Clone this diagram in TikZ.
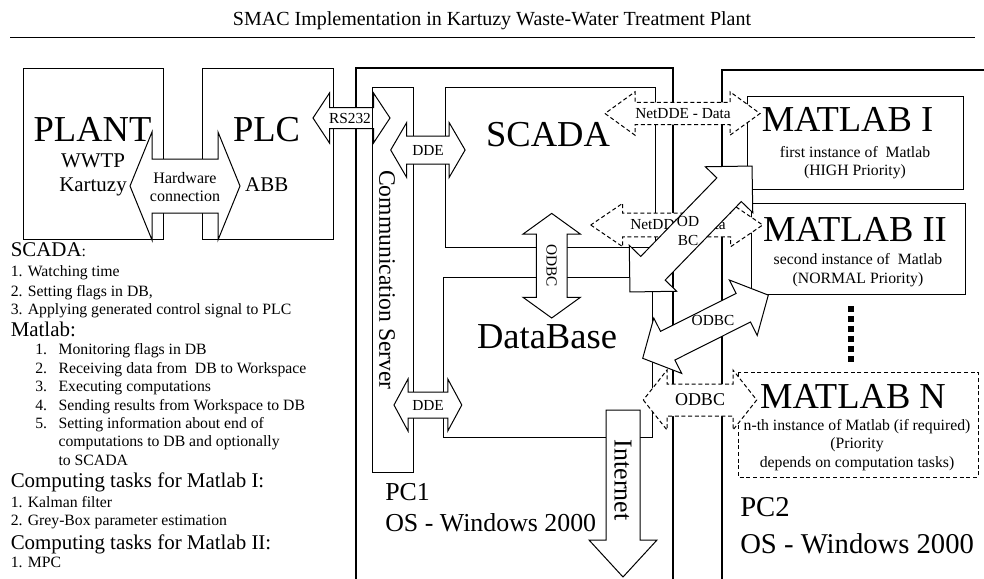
\documentclass[tikz,border=0pt]{standalone}
\usepackage{fontspec}
\setmainfont{Liberation Serif}
\usetikzlibrary{calc}

% font sizes (1px of the sketch = 0.75pt)
\newcommand{\fttl}{\fontsize{15}{18}\selectfont}
\newcommand{\fbig}{\fontsize{27.4}{30}\selectfont}
\newcommand{\fhd}{\fontsize{15.7}{18}\selectfont}
\newcommand{\ftxt}{\fontsize{11.8}{13.8}\selectfont}
\newcommand{\flab}{\fontsize{11.5}{13.7}\selectfont}
\newcommand{\fcom}{\fontsize{17.7}{20}\selectfont}
\newcommand{\fpca}{\fontsize{19.4}{22}\selectfont}
\newcommand{\fpcb}{\fontsize{21.5}{24}\selectfont}

\tikzset{
  box/.style={draw, line width=0.75pt},
  pcbox/.style={draw, line width=2pt},
  blk/.style={draw, fill=white, line width=0.75pt, line join=miter},
  blkdash/.style={blk, dash pattern=on 3pt off 2pt},
  bigt/.style={inner sep=0pt, anchor=base, font=\fbig},
  txt/.style={inner sep=0pt, anchor=base west, font=\ftxt},
  hd/.style={inner sep=0pt, anchor=base west, font=\fhd},
  lbl/.style={inner sep=0pt, align=center, font=\flab},
  sub/.style={inner sep=0pt, align=center, font=\ftxt}
}

% block double arrow: [opts]{centre}{angle}{half length}{head length}{head half width}{shaft half width}
\newcommand{\dblarrow}[7][]{%
  \begin{scope}[shift={#2},rotate=#3]
    \draw[blk,#1] (-#4,0) -- ({-#4+#5},#6) -- ({-#4+#5},#7) -- ({#4-#5},#7) -- ({#4-#5},#6) -- (#4,0)
      -- ({#4-#5},-#6) -- ({#4-#5},-#7) -- ({-#4+#5},-#7) -- ({-#4+#5},-#6) -- cycle;
  \end{scope}}

\begin{document}
\begin{tikzpicture}[x=0.75pt,y=-0.75pt]
\useasboundingbox (0,0) rectangle (984,578);

% title
\node[inner sep=0pt, anchor=base, font=\fttl] (title) at (492,25) {SMAC Implementation in Kartuzy Waste-Water Treatment Plant};
\draw[line width=0.75pt] (10,37) -- (975,37);

% plant and plc
\draw[box] (23,68) rectangle (163,239);
\draw[box] (202,68) rectangle (333,239);
\dblarrow{(185,186)}{0}{55}{22}{54}{27}
\node[inner sep=0pt, align=center, font=\fontsize{12}{13.7}\selectfont] (hw) at (185,187) {Hardware\\connection};

% computers
\draw[pcbox] (356,580) -- (356,68) -- (673,68) -- (673,580);
\draw[pcbox] (722,580) -- (722,70) -- (990,70);

\dblarrow{(351.5,118)}{0}{38.5}{16.5}{25}{10.5}
\node[lbl] (rs) at (350,118) {RS232};

% PC1 contents
\draw[box] (372,87) rectangle (413,472);
\draw[box] (445,87) rectangle (655,247);
\draw[box] (443,277) rectangle (652,437);
\dblarrow{(427.9,150)}{0}{37.2}{16}{27.5}{14}
\node[lbl] (dde1) at (428,150) {DDE};
\dblarrow{(427.9,405)}{0}{33.9}{14}{26}{13}
\node[lbl] (dde2) at (428,405) {DDE};
\dblarrow{(551.7,265.7)}{90}{52.3}{20.7}{28.7}{15.3}
\node[lbl, rotate=-90] (odbc1) at (551.7,265.7) {ODBC};

% PC2 contents
\draw[box] (747,96) rectangle (963,189);
\draw[box] (751,203) rectangle (965,294);
\draw[box, dash pattern=on 3pt off 2pt] (738,372) rectangle (978,477);
\draw[line width=4.5pt, dash pattern=on 4.5pt off 3pt] (851,306) -- (851,362);

% links between the computers
\dblarrow[blkdash]{(682.5,113.5)}{0}{77.5}{30}{21.7}{11.2}
\node[lbl] (net1) at (683,113.5) {NetDDE - Data};
\dblarrow[blkdash]{(676.7,225)}{0}{86}{32}{21.7}{11.8}
\node[lbl] (net2) at (678,225) {NetDDE - Data};
\dblarrow{(691,229)}{45.9}{87.7}{33}{33}{17}
\node[lbl] (odbc2) at (688,231) {OD\\BC};
\dblarrow{(705.5,326.7)}{26.7}{70.3}{28}{31}{16}
\node[lbl] (odbc3) at (713,320) {ODBC};
\dblarrow[blkdash]{(700,400)}{0}{56.7}{23.7}{30}{16}
\node[lbl, font=\fontsize{13.5}{15}\selectfont] (odbc4) at (700,400) {ODBC};

% internet
\draw[blk] (606,410) -- (640,410) -- (640,540) -- (657,540) -- (623,577) -- (589,540) -- (606,540) -- cycle;
\node[inner sep=0pt, rotate=-90, font=\fpca] (inet) at (623,480) {Internet};

% box texts
\node[bigt] (plant) at (92.5,141.7) {PLANT};
\node[bigt] (plc) at (266.5,141.7) {PLC};
\node[inner sep=0pt, align=center, anchor=base, font=\fhd] (wwtp) at (93,191.7) {WWTP\\Kartuzy};
\node[inner sep=0pt, anchor=base, font=\fhd] (abb) at (266.7,191.7) {ABB};
\node[inner sep=0pt, rotate=-90, font=\fcom] (comm) at (387,280) {Communication Server};
\node[bigt] (scada) at (548,146.7) {SCADA};
\node[bigt] (db) at (547,348) {DataBase};
\node[bigt] (m1) at (847.5,131.7) {MATLAB I};
\node[sub] (m1s) at (855,162.5) {first instance of~ Matlab\\(HIGH Priority)};
\node[bigt] (m2) at (855,241) {MATLAB II};
\node[sub] (m2s) at (858,270) {second instance of~ Matlab\\(NORMAL Priority)};
\node[bigt] (mn) at (853,408) {MATLAB N};
\node[sub] (mns) at (857,445) {n-th instance of Matlab (if required)\\(Priority\\depends on computation tasks)};
\node[inner sep=0pt, anchor=base west, font=\fpca] (pc1) at (385,500) {PC1};
\node[inner sep=0pt, anchor=base west, font=\fpca] (os1) at (385,531) {OS - Windows 2000};
\node[inner sep=0pt, anchor=base west, font=\fpcb] (pc2) at (740,516) {PC2};
\node[inner sep=0pt, anchor=base west, font=\fpcb] (os2) at (740,553) {OS - Windows 2000};

% description on the left
\node[txt] (s0) at (10.5,256.7) {{\fhd SCADA}:};
\node[txt] (s1) at (10.5,276.7) {1. Watching time};
\node[txt] (s2) at (10.5,296) {2. Setting flags in DB,};
\node[txt] (s3) at (10.5,314.5) {3. Applying generated control signal to PLC};
\node[hd] (m0) at (10.5,336) {Matlab:};
\node[txt] (t1n) at (35,354) {1.};
\node[txt] (t1) at (58.3,354) {Monitoring flags in DB};
\node[txt] (t2n) at (35,373.3) {2.};
\node[txt] (t2) at (58.3,373.3) {Receiving data from~ DB to Workspace};
\node[txt] (t3n) at (35,391.7) {3.};
\node[txt] (t3) at (58.3,391.7) {Executing computations};
\node[txt] (t4n) at (35,410) {4.};
\node[txt] (t4) at (58.3,410) {Sending results from Workspace to DB};
\node[txt] (t5n) at (35,428) {5.};
\node[txt] (t5) at (58.3,428) {Setting information about end of};
\node[txt] (t5b) at (58.3,446.7) {computations to DB and optionally};
\node[txt] (t5c) at (58.3,465) {to SCADA};
\node[hd] (c1) at (10.5,487.7) {Computing tasks for Matlab I:};
\node[txt] (c1a) at (10.5,507.3) {1. Kalman filter};
\node[txt] (c1b) at (10.5,525) {2. Grey-Box parameter estimation};
\node[hd] (c2) at (10.5,549.3) {Computing tasks for Matlab II:};
\node[txt] (c2a) at (10.5,567.3) {1. MPC};
\end{tikzpicture}
\end{document}
